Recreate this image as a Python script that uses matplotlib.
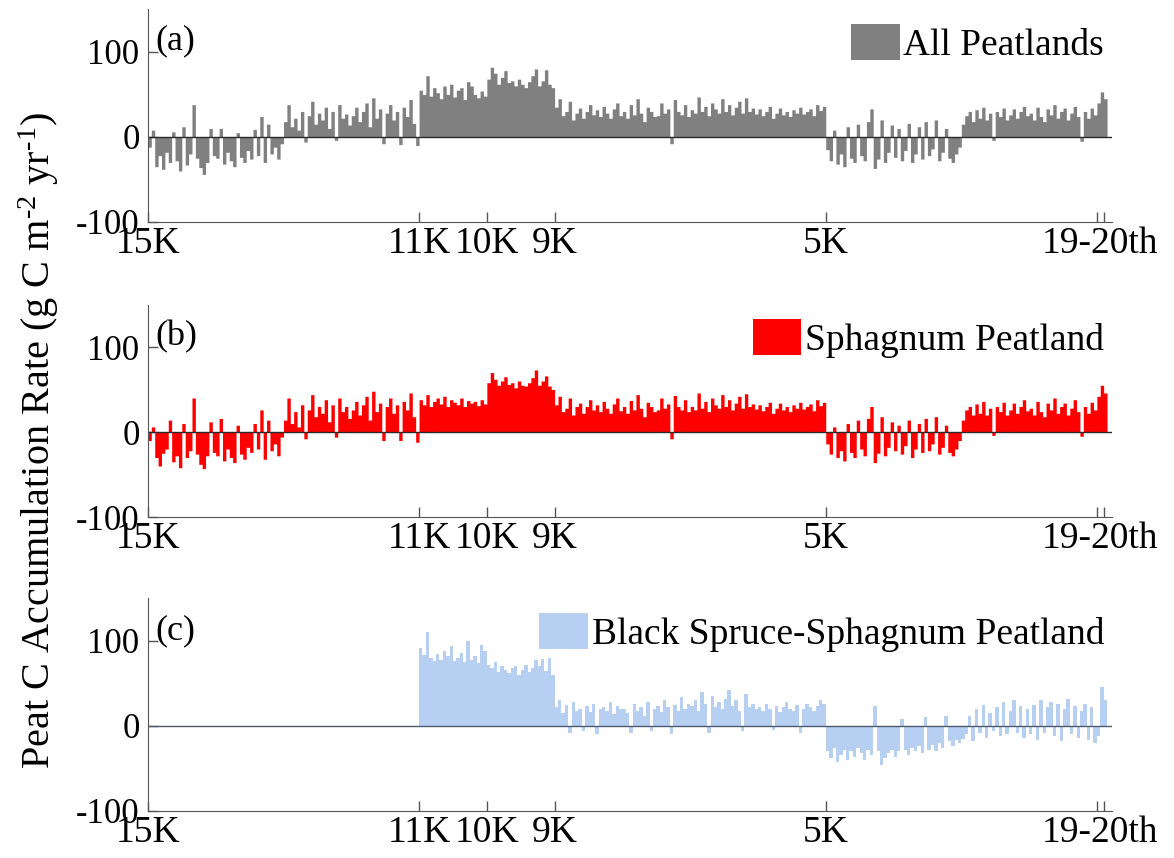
import numpy as np
import matplotlib
matplotlib.use("Agg")
import matplotlib.pyplot as plt
from matplotlib.patches import Patch

plt.rcParams['font.family'] = ['Liberation Serif', 'DejaVu Serif']
plt.rcParams['mathtext.fontset'] = 'custom'
plt.rcParams['mathtext.rm'] = 'Liberation Serif'
plt.rcParams['mathtext.it'] = 'Liberation Serif:italic'
plt.rcParams['axes.unicode_minus'] = False

# time axis: years after 15K BP, 50-yr steps
step = 50

# (a) all peatlands, 0 .. 14100
all_peat = [
    -12, 8, -35, -22, -38, -18, -30, 6, -28, -40, 12, -33, -20, 38, -25, -36, -44, -30, 10, -22,
    -25, 10, -32, -18, -28, -35, 5, -24, -30, -16, -26, 9, -22, 24, -30, 15, -20, -12, -26, -8,
    18, 38, 12, 22, 8, 30, -6, 25, 42, 15, 28, 20, 35, 10, 30, -4, 38, 22, 27, 14,
    25, 35, 18, 30, 40, 12, 46, 22, 33, -8, 28, 38, 20, 30, -9, 35, 24, 44, 16, -10,
    55, 50, 72, 48, 58, 52, 45, 60, 50, 62, 47, 55, 58, 44, 65, 60, 50, 46, 54, 48,
    68, 82, 75, 62, 70, 78, 64, 66, 60, 68, 62, 58, 65, 72, 80, 60, 66, 79, 62, 58,
    35, 45, 25, 30, 42, 20, 28, 34, 22, 30, 38, 26, 32, 24, 36, 28, 22, 33, 40, 25,
    30, 22, 38, 26, 45, 28, 18, 35, 30, 24, 25, 40, 28, 33, -8, 44, 30, 26, 38, 24,
    32, 28, 47, 30, 36, 25, 40, 33, 28, 45, 30, 38, 26, 35, 42, 28, 46, 30, 34, 27,
    33, 25, 30, 36, 22, 28, 34, 26, 30, 24, 32, 28, 35, 27, 30, 33, 25, 38, 31, 36,
    -15, -28, 8, -32, -20, -35, 12, -25, -30, 15, -22, -28, 18, 33, -37, -26, 20, -30, -18, 14,
    -24, 10, -28, -16, 16, -30, -20, 12, -26, 18, -22, -14, 20, -28, -18, 10, -25, -30, -20, -12,
    15, 25, 30, 18, 32, 22, 35, 20, 28, -4, 30, 24, 34, 20, 26, 33, 22, 30, 36, 25,
    28, 20, 35, 24, 18, 33, 26, 38, 22, 30, 34, 20, 28, 36, 24, -5, 30, 22, 34, 26,
    40, 53, 45,
]

# (b) sphagnum peatland, 0 .. 14100
sphagnum = [
    -10, 6, -30, -40, -25, -20, 14, -35, -28, -42, 10, -30, -22, 40, -26, -38, -43, -28, 12, -24,
    -28, 16, -34, -20, -30, -36, 8, -26, -32, -18, -24, 10, -20, 26, -32, 14, -22, -14, -28, -6,
    14, 40, 10, 24, 6, 32, -8, 26, 44, 18, 30, 22, 38, 12, 32, -6, 40, 24, 30, 16,
    26, 36, 20, 32, 42, 14, 48, 24, 34, -10, 30, 40, 22, 32, -10, 36, 26, 46, 18, -12,
    38, 32, 44, 30, 36, 40, 33, 42, 30, 38, 35, 32, 40, 30, 37, 34, 36, 31, 38, 33,
    58, 70, 62, 55, 60, 65, 56, 58, 52, 60, 55, 54, 58, 64, 73, 55, 60, 66, 54, 50,
    32, 42, 24, 28, 40, 20, 30, 34, 22, 30, 38, 26, 32, 24, 36, 28, 22, 33, 40, 25,
    30, 22, 37, 26, 44, 28, 18, 35, 30, 24, 26, 40, 28, 33, -8, 43, 30, 26, 38, 24,
    30, 26, 46, 28, 36, 24, 40, 32, 28, 44, 30, 38, 26, 34, 42, 28, 45, 30, 33, 27,
    32, 25, 30, 35, 22, 28, 34, 26, 30, 24, 32, 28, 35, 27, 30, 33, 25, 38, 31, 35,
    -14, -26, 6, -30, -22, -34, 10, -24, -30, 14, -20, -28, 16, 30, -36, -25, 18, -28, -18, 12,
    -22, 8, -26, -16, 14, -30, -20, 10, -24, 16, -22, -14, 18, -26, -18, 8, -24, -28, -20, -10,
    14, 26, 30, 20, 33, 22, 36, 20, 28, -4, 30, 24, 35, 20, 26, 34, 22, 30, 38, 25,
    28, 20, 36, 24, 18, 34, 26, 40, 22, 30, 34, 20, 28, 38, 24, -5, 30, 22, 35, 26,
    42, 55, 46,
]

# (c) black spruce-sphagnum peatland, starts at 11K (year 4000) .. 14100
spruce_start = 4000
spruce = [
    92, 84, 110, 80, 76, 85, 78, 88, 82, 94, 76, 80, 86, 75, 100, 78, 82, 74, 95, 88,
    72, 68, 75, 64, 70, 66, 62, 68, 70, 60, 66, 72, 64, 68, 78, 70, 79, 65, 80, 60,
    22, 30, 15, 25, -8, 28, 18, 20, -6, 24, 16, 26, -10, 20, 22, 18, 28, 14, 24, 20,
    20, 15, -8, 26, 18, 22, 12, 28, -6, 20, 24, 16, 30, 22, -10, 25, 18, 34, 20, 26,
    24, 30, 18, 40, 26, -8, 35, 22, 28, 20, 32, 42, 24, 30, 18, -6, 38, 22, 26, 20,
    22, 18, 26, 20, -5, 24, 16, 22, 28, 20, 18, 25, -8, 20, 26, 22, 18, 24, 30, 26,
    -30, -38, -26, -42, -34, -28, -40, -30, -36, -26, -32, -40, -28, -34, 24, -30, -46, -38, -32, -28,
    -36, -30, 8, -28, -34, -26, -30, -24, -32, 10, -28, -22, -30, -20, -26, 12, -18, -24, -16, -20,
    -15, -10, 12, -18, 20, -8, 25, -14, 15, -6, 22, -12, 28, -10, 18, 30, -8, 24, -14, 20,
    -10, 25, -16, 30, -8, 22, 28, -12, 26, -18, 20, 32, -10, 24, -14, 18, 26, -16, 22, -20,
    -12, 46, 30,
]

tick_pos = [0, 4000, 5000, 6000, 10000]
tick_lab = ['15K', '11K', '10K', '9K', '5K']
end_ticks = [14000, 14100]
end_label = '19-20th'

panels = [
    ('(a)', 'All Peatlands', all_peat, 0, '#808080', '#2a2a2a'),
    ('(b)', 'Sphagnum Peatland', sphagnum, 0, '#ff0000', '#2a2a2a'),
    ('(c)', 'Black Spruce-Sphagnum Peatland', spruce, spruce_start, '#b7cff0', '#4d5a70'),
]

fig = plt.figure(figsize=(11.74, 8.58), dpi=100)
bottoms = [0.7413, 0.3974, 0.0548]

for (tag, name, vals, start, col, zcol), b in zip(panels, bottoms):
    ax = fig.add_axes([0.126, b, 0.821, 0.2477])
    vals = np.asarray(vals, dtype=float)
    x = start + step * np.arange(len(vals))
    xe = np.append(x, x[-1] + step)
    ye = np.append(vals, vals[-1])
    ax.fill_between(xe, ye, 0, step='post', color=col, linewidth=0)
    ax.axhline(0, color=zcol, lw=1.0)

    ax.set_xlim(0, 14220)
    ax.set_ylim(-100, 150)
    ax.set_yticks([-100, 0, 100])
    ax.set_xticks(tick_pos + end_ticks)
    ax.set_xticklabels(tick_lab + ['', ''])
    ax.set_xticks([np.mean(end_ticks)], minor=True)
    ax.set_xticklabels([end_label], minor=True)
    ax.tick_params(which='major', direction='in', length=7, width=1, color='#555555')
    ax.tick_params(axis='x', which='both', labelsize=27, pad=3)
    ax.tick_params(axis='x', which='minor', length=0)
    ax.tick_params(axis='y', labelsize=25, pad=6)
    for s in ('top', 'right'):
        ax.spines[s].set_visible(False)
    for s in ('left', 'bottom'):
        ax.spines[s].set_color('#555555')

    ax.text(0.008, 0.85, tag, transform=ax.transAxes, ha='left', va='center', fontsize=26)
    ax.legend(handles=[Patch(facecolor=col, edgecolor='none')], labels=[name],
              loc='upper right', bbox_to_anchor=(0.992, 0.93), frameon=False,
              borderaxespad=0, borderpad=0, handlelength=1.3, handleheight=1.1,
              handletextpad=0.1, fontsize=27)

fig.text(0.033, 0.487, 'Peat C Accumulation Rate (g C m$^{\\text{-2}}$ yr$^{\\text{-1}}$)',
         rotation=90, ha='center', va='center', fontsize=29)

fig.savefig('out.png', dpi=100)
